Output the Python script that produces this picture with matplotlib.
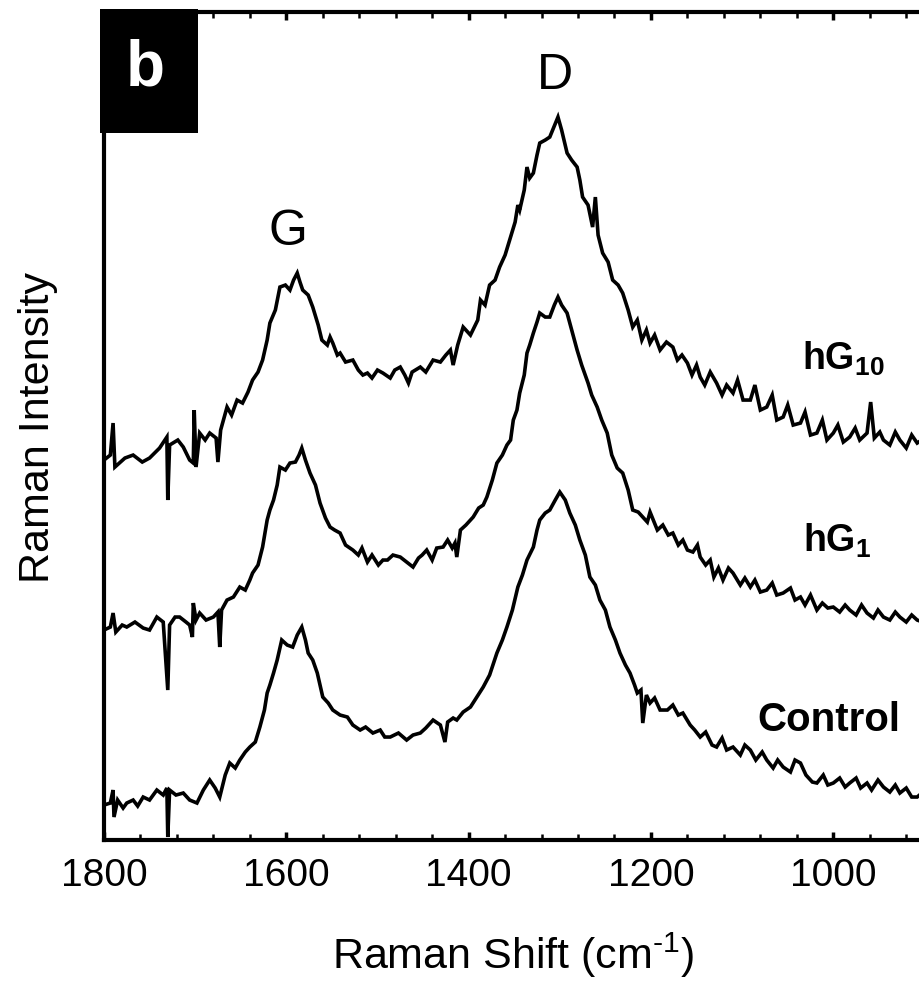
import matplotlib; matplotlib.use("Agg")
import matplotlib.pyplot as plt
from matplotlib.patches import Rectangle
from matplotlib.ticker import MultipleLocator
import numpy as np

plt.rcParams.update({"font.family": "Liberation Sans",
                     "mathtext.fontset": "custom",
                     "mathtext.rm": "Liberation Sans",
                     "mathtext.bf": "Liberation Sans:bold"})

# ---- spectra (wavenumber cm-1, intensity a.u.) ----
w_hg10 = [1800, 1793, 1790, 1788, 1777, 1768, 1758, 1750, 1739, 1731, 1730, 1728, 1719, 1713,
          1706, 1702, 1701, 1699, 1695, 1689, 1684, 1677, 1675, 1672, 1665, 1660, 1654, 1648,
          1642, 1637, 1631, 1626, 1621, 1618, 1612, 1607, 1601, 1596, 1592, 1588, 1585, 1582,
          1576, 1571, 1565, 1561, 1555, 1552, 1549, 1544, 1541, 1535, 1527, 1521, 1516, 1511,
          1506, 1500, 1494, 1486, 1481, 1475, 1470, 1466, 1462, 1453, 1447, 1439, 1431, 1425,
          1420, 1417, 1412, 1406, 1398, 1390, 1387, 1382, 1377, 1371, 1366, 1360, 1355, 1349,
          1346, 1344, 1339, 1336, 1333, 1329, 1325, 1322, 1316, 1311, 1307, 1302, 1298, 1292,
          1287, 1281, 1278, 1275, 1269, 1264, 1261, 1258, 1253, 1247, 1242, 1236, 1231, 1225,
          1220, 1215, 1210, 1205, 1201, 1196, 1190, 1183, 1176, 1171, 1166, 1160, 1155, 1150,
          1146, 1141, 1135, 1128, 1122, 1117, 1110, 1105, 1099, 1091, 1086, 1080, 1073, 1067,
          1062, 1055, 1050, 1044, 1036, 1031, 1025, 1018, 1012, 1007, 1000, 995, 989, 982,
          976, 971, 963, 959, 955, 949, 945, 938, 932, 927, 920, 914, 908, 903, 894, 883]
i_hg10 = [380, 385, 417, 373, 382, 385, 378, 382, 392, 403, 340, 395, 400, 393,
          380, 377, 430, 373, 407, 400, 407, 402, 378, 410, 433, 425, 440, 437,
          448, 460, 468, 480, 500, 517, 530, 553, 555, 550, 560, 567, 558, 550,
          545, 533, 515, 500, 495, 503, 497, 485, 487, 478, 480, 470, 465, 467,
          462, 470, 467, 462, 470, 473, 465, 457, 468, 473, 468, 480, 478, 485,
          490, 475, 495, 513, 505, 520, 540, 535, 555, 560, 573, 585, 600, 618,
          635, 630, 650, 673, 662, 667, 685, 697, 700, 703, 712, 723, 710, 687,
          680, 673, 660, 643, 635, 613, 643, 605, 587, 578, 560, 555, 547, 530,
          513, 520, 500, 510, 497, 505, 490, 498, 493, 480, 485, 477, 465, 475,
          463, 455, 468, 457, 445, 455, 447, 460, 440, 440, 455, 430, 433, 445,
          420, 423, 435, 415, 417, 428, 405, 407, 420, 400, 407, 415, 398, 403,
          412, 400, 407, 438, 402, 408, 400, 395, 408, 400, 392, 405, 397, 400, 395, 400]

w_hg1 = [1800, 1793, 1790, 1787, 1780, 1775, 1766, 1757, 1750, 1742, 1735, 1730, 1728, 1722,
         1717, 1710, 1706, 1703, 1702, 1699, 1695, 1688, 1680, 1675, 1673, 1671, 1665, 1658,
         1651, 1645, 1640, 1637, 1631, 1626, 1621, 1618, 1614, 1610, 1607, 1601, 1596, 1590,
         1586, 1583, 1579, 1574, 1568, 1563, 1557, 1552, 1547, 1541, 1535, 1527, 1521, 1517,
         1511, 1506, 1499, 1494, 1489, 1483, 1475, 1468, 1461, 1455, 1451, 1446, 1440, 1435,
         1428, 1423, 1418, 1415, 1413, 1409, 1403, 1395, 1389, 1384, 1380, 1374, 1369, 1363,
         1358, 1354, 1351, 1347, 1344, 1339, 1336, 1333, 1329, 1325, 1322, 1316, 1311, 1306,
         1302, 1298, 1292, 1287, 1281, 1276, 1269, 1265, 1259, 1254, 1248, 1243, 1237, 1231,
         1225, 1220, 1214, 1209, 1204, 1201, 1193, 1187, 1181, 1176, 1170, 1165, 1160, 1154,
         1149, 1146, 1140, 1135, 1131, 1126, 1121, 1115, 1110, 1102, 1097, 1091, 1086, 1080,
         1073, 1067, 1062, 1055, 1047, 1042, 1036, 1031, 1025, 1018, 1012, 1006, 1000, 993,
         987, 982, 975, 969, 963, 956, 951, 945, 938, 932, 927, 920, 914, 908, 899, 883]
i_hg1 = [210, 213, 227, 208, 215, 213, 218, 212, 210, 223, 218, 150, 215, 223,
         223, 218, 215, 203, 237, 220, 227, 220, 223, 228, 193, 230, 240, 243,
         253, 250, 260, 267, 275, 293, 320, 330, 340, 355, 373, 370, 377, 378,
         385, 392, 380, 367, 355, 337, 322, 313, 310, 307, 295, 290, 285, 292,
         278, 285, 275, 280, 280, 285, 283, 278, 273, 282, 285, 290, 280, 292,
         293, 300, 292, 297, 283, 310, 315, 323, 332, 335, 343, 360, 377, 385,
         395, 400, 420, 430, 447, 465, 487, 495, 507, 518, 527, 523, 523, 535,
         543, 535, 527, 510, 490, 475, 457, 445, 433, 420, 407, 385, 372, 367,
         350, 330, 328, 323, 318, 328, 310, 315, 305, 307, 295, 300, 290, 288,
         295, 283, 275, 280, 263, 272, 260, 272, 267, 255, 262, 253, 260, 248,
         250, 257, 245, 247, 252, 240, 243, 235, 245, 230, 237, 232, 233, 228,
         235, 230, 225, 235, 227, 222, 230, 223, 220, 228, 223, 218, 225, 220, 217, 220]

w_ctrl = [1800, 1793, 1790, 1789, 1785, 1779, 1775, 1768, 1763, 1757, 1750, 1742, 1735, 1731,
          1730, 1728, 1721, 1713, 1706, 1698, 1691, 1684, 1678, 1673, 1667, 1662, 1656, 1651,
          1645, 1640, 1634, 1629, 1624, 1621, 1618, 1614, 1610, 1605, 1599, 1593, 1588, 1583,
          1579, 1576, 1571, 1566, 1563, 1560, 1554, 1549, 1541, 1533, 1527, 1519, 1513, 1505,
          1497, 1492, 1486, 1477, 1468, 1461, 1453, 1447, 1439, 1431, 1426, 1423, 1417, 1413,
          1406, 1398, 1391, 1384, 1377, 1369, 1363, 1358, 1352, 1346, 1341, 1336, 1329, 1325,
          1322, 1316, 1311, 1305, 1300, 1294, 1289, 1283, 1278, 1272, 1267, 1261, 1256, 1250,
          1245, 1239, 1234, 1228, 1223, 1218, 1215, 1211, 1209, 1205, 1201, 1196, 1190, 1182,
          1176, 1170, 1165, 1157, 1152, 1146, 1140, 1133, 1128, 1122, 1117, 1110, 1102, 1097,
          1091, 1085, 1078, 1073, 1066, 1061, 1055, 1047, 1042, 1036, 1030, 1023, 1018, 1011,
          1006, 1000, 993, 987, 982, 975, 970, 963, 958, 951, 945, 938, 932, 927,
          920, 914, 908, 899, 883]
i_ctrl = [35, 37, 50, 23, 40, 32, 37, 40, 34, 43, 40, 50, 45, 52,
          3, 50, 45, 47, 40, 37, 50, 60, 52, 43, 65, 77, 72, 80,
          88, 93, 98, 113, 130, 147, 155, 167, 180, 200, 195, 193, 205, 213,
          200, 187, 180, 167, 155, 143, 137, 130, 125, 123, 115, 110, 113, 107,
          110, 103, 103, 107, 100, 105, 107, 112, 120, 115, 98, 118, 122, 120,
          128, 133, 143, 153, 165, 187, 200, 213, 230, 253, 265, 280, 293, 310,
          320, 327, 330, 340, 348, 340, 327, 315, 300, 285, 263, 255, 240, 230,
          213, 200, 187, 175, 167, 155, 147, 150, 117, 145, 137, 142, 130, 130,
          135, 125, 127, 115, 110, 103, 108, 95, 93, 102, 90, 93, 85, 95,
          90, 80, 88, 80, 72, 80, 73, 68, 80, 77, 65, 58, 57, 65,
          55, 57, 62, 53, 57, 62, 52, 57, 50, 60, 53, 48, 55, 47,
          52, 43, 43, 50, 45]

fig = plt.figure(figsize=(9.2, 9.81), dpi=100)
ax = fig.add_axes([0.113, 0.1437, 0.9087, 0.844])
for w, i in [(w_hg10, i_hg10), (w_hg1, i_hg1), (w_ctrl, i_ctrl)]:
    ax.plot(w, i, color="black", lw=2.6, solid_joinstyle="miter")

ax.set_xlim(1800, 883); ax.set_ylim(0, 828)
ax.xaxis.set_major_locator(MultipleLocator(200))
ax.xaxis.set_minor_locator(MultipleLocator(40))
ax.set_yticks([])
ax.tick_params(axis="x", which="both", direction="in", top=True, bottom=True, labelsize=28, pad=13)
ax.tick_params(axis="x", which="major", length=6, width=2.5)
ax.tick_params(axis="x", which="minor", length=4, width=1.8)
for sp in ax.spines.values(): sp.set_linewidth(3)

# panel tag
ax.add_patch(Rectangle((-0.005, 0.854), 0.117, 0.15, transform=ax.transAxes,
                       facecolor="black", edgecolor="none", clip_on=False, zorder=5))
ax.text(0.049, 0.932, "b", transform=ax.transAxes, color="white", fontsize=46,
        fontweight="bold", ha="center", va="center", zorder=6)

# peak + series labels
ax.text(0.220, 0.734, "G", transform=ax.transAxes, fontsize=36, ha="center", va="center")
ax.text(0.5395, 0.923, "D", transform=ax.transAxes, fontsize=36, ha="center", va="center")
ax.text(0.835, 0.568, r"hG$_{\mathbf{10}}$", transform=ax.transAxes, fontsize=27,
        fontweight="bold", ha="left", va="baseline")
ax.text(0.836, 0.348, r"hG$_{\mathbf{1}}$", transform=ax.transAxes, fontsize=27,
        fontweight="bold", ha="left", va="baseline")
ax.text(0.782, 0.132, "Control", transform=ax.transAxes, fontsize=29,
        fontweight="bold", ha="left", va="baseline")

fig.text(0.5576, 0.0265, "Raman Shift (cm$^{\\mathregular{\u20101}}$)", fontsize=31, ha="center", va="center")
fig.text(0.0413, 0.5647, "Raman Intensity", fontsize=31, rotation=90, ha="center", va="center")

fig.savefig("out.png", dpi=100, facecolor="white")
